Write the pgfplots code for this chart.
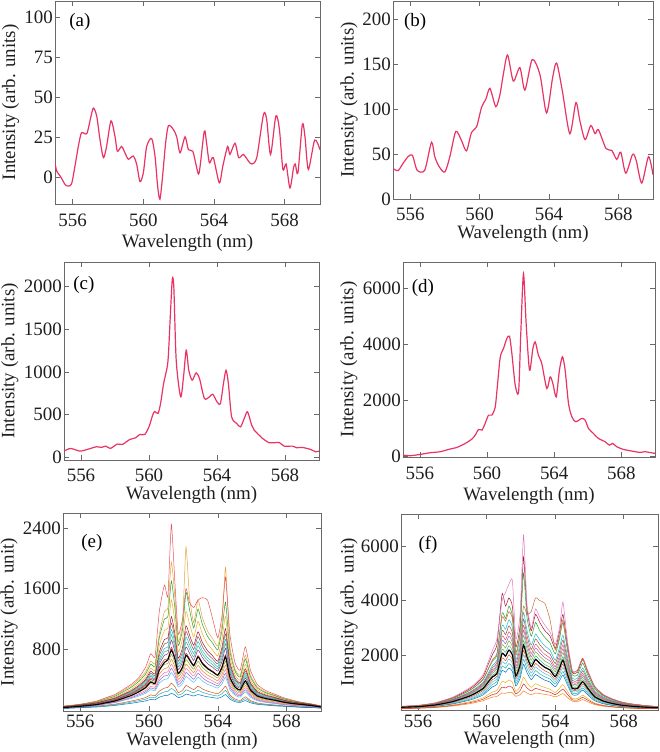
\documentclass[border=0pt]{standalone}
\usepackage{fontspec}
\setmainfont{Liberation Serif}
\usepackage{pgfplots}
\usepackage{pgfplotstable}
\pgfplotsset{compat=1.18}
\definecolor{spec}{RGB}{232,51,99}
\definecolor{axgray}{RGB}{105,105,105}
\definecolor{c1}{HTML}{0072BD}
\definecolor{c2}{HTML}{D95319}
\definecolor{c3}{HTML}{EDB120}
\definecolor{c4}{HTML}{7E2F8E}
\definecolor{c5}{HTML}{77AC30}
\definecolor{c6}{HTML}{4DBEEE}
\definecolor{c7}{HTML}{A2142F}
\definecolor{c8}{HTML}{2CA02C}
\definecolor{c9}{HTML}{17BECF}
\definecolor{c10}{HTML}{E377C2}
\definecolor{c11}{HTML}{E8A33A}
\definecolor{c12}{HTML}{E8505B}
\definecolor{c13}{HTML}{3CB371}
\definecolor{c14}{HTML}{FF7F0E}
\definecolor{c15}{HTML}{9467BD}
\definecolor{c16}{HTML}{20B2AA}
\definecolor{c17}{HTML}{D62728}
\definecolor{c18}{HTML}{8C564B}

\pgfplotstableread{
x m s1 s2 s3 s4 s5 s6 s7 s8 s9 s10 s11 s12 t1 t2 t3 t4 t5 t6
555 27 15 20 22 25 30 32 35 38 40 42 45 48 18 24 28 31 34 36
555.5 35 20 26 30 32 38 40 44 48 50 53 56 58 23 31 35 39 42 46
556 44 25 32 38 40 48 50 55 60 62 66 70 72 28 39 44 49 52 58
556.5 55 30 40 46 50 60 63 68 74 78 82 88 92 35 48 55 61 66 71
557 68 35 48 56 62 74 78 85 92 97 104 110 116 42 59 68 76 82 88
557.5 90 45 60 75 82 98 103 112 122 130 140 150 158 52 78 90 100 108 117
558 113 55 72 92 102 122 130 140 152 162 175 188 198 64 97 112 126 135 146
558.5 150 70 92 120 135 162 172 186 202 215 235 250 265 81 128 148 167 179 194
559 190 85 115 150 172 205 218 236 256 275 300 320 340 100 161 188 211 227 246
559.4 235 100 135 180 210 250 270 290 318 340 372 395 420 118 195 230 260 280 304
559.8 292 115 160 215 255 310 335 365 400 430 470 500 560 138 235 282 322 350 382
560.1 367 135 195 265 310 380 420 460 510 550 600 640 740 165 288 345 400 440 485
560.35 345 130 185 250 295 360 395 430 475 520 570 610 700 158 272 328 378 412 452
560.6 521 165 245 350 420 520 600 670 760 850 950 1000 1300 205 385 470 560 635 715
560.9 625 185 285 400 490 600 720 810 930 1050 1200 1300 1650 235 445 545 660 765 870
561.1 660 190 295 410 500 610 740 830 950 1080 1230 1350 1500 242 455 555 675 785 890
561.3 787 215 350 490 600 730 920 1060 1230 1450 1700 1950 2450 280 545 665 825 990 1145
561.5 676 195 305 420 515 625 770 880 1010 1170 1350 1500 1700 250 468 570 698 825 945
561.7 477 160 225 300 365 440 530 600 680 760 850 900 1000 192 332 402 485 565 640
561.95 560 175 255 345 425 515 630 720 820 940 1060 1150 1200 215 385 470 572 675 770
562.15 720 205 320 440 545 660 830 960 1110 1300 1550 2150 1600 262 492 602 745 895 1035
562.35 660 195 295 405 500 605 750 860 990 1140 1330 1500 1420 245 452 552 678 805 925
562.6 580 180 265 360 445 535 650 740 850 960 1080 1150 1350 222 402 490 592 695 795
562.85 698 200 310 430 530 640 790 900 1030 1170 1330 1450 1450 255 480 585 715 845 965
563.1 610 185 275 380 465 560 690 780 890 1000 1130 1220 1480 230 422 512 625 735 835
563.4 543 170 245 335 415 500 610 690 780 870 970 1040 1450 208 375 458 555 650 735
563.7 499 160 225 310 380 460 560 630 710 790 880 940 1200 192 345 420 510 595 670
564.0 455 150 210 285 345 420 510 570 640 710 790 840 950 180 315 382 465 540 605
564.25 560 170 255 345 425 515 640 730 830 940 1060 1150 1250 212 385 470 578 685 780
564.45 698 200 310 430 530 640 810 930 1070 1230 1420 1880 1750 255 480 585 725 870 1000
564.7 430 140 195 270 330 395 490 560 630 700 780 850 1000 168 300 362 442 525 595
565.0 300 105 140 190 230 275 330 375 420 460 510 540 620 122 210 252 302 352 398
565.3 260 95 122 165 200 240 285 320 355 390 430 455 520 108 182 220 262 302 338
565.6 380 120 170 235 290 350 420 480 540 600 670 720 830 145 262 320 385 450 510
565.9 260 90 120 165 200 240 285 320 355 390 430 455 520 105 182 220 262 302 338
566.3 180 70 88 118 140 165 195 215 240 260 285 300 330 79 129 152 180 205 228
566.8 146 60 72 95 112 134 158 175 192 205 222 232 250 66 103 123 146 166 184
567.3 125 50 62 80 95 114 134 148 162 172 185 192 205 56 88 104 124 141 155
567.8 100 45 50 65 76 92 108 118 128 135 145 150 160 48 70 84 100 113 123
568.3 82 38 42 55 63 76 88 96 104 110 118 120 128 40 59 70 82 92 100
568.8 70 32 36 46 52 64 74 80 86 90 95 96 100 34 49 58 69 77 83
569.4 55 28 30 38 42 50 60 64 68 70 74 75 78 29 40 46 55 62 66
570 35 20 22 26 30 34 38 40 42 44 46 48 50 21 28 32 36 39 41
}\tabE

\pgfplotstableread{
x m s1 s2 s3 s4 s5 s6 s7 s8 s9 s10 s11 s12 t1 t2 t3 t4 t5 t6
555 98 50 60 70 80 95 105 112 120 125 130 135 128 55 75 88 100 108 116
555.5 110 55 68 78 90 106 118 125 134 140 146 150 142 62 84 98 112 121 130
556 122 62 76 88 100 118 130 140 150 158 165 170 160 69 94 109 124 135 145
556.5 150 75 92 108 124 146 160 172 185 195 205 212 198 84 116 135 153 166 178
557 183 90 112 132 152 178 198 212 228 242 255 265 245 101 142 165 188 205 220
557.5 240 115 145 172 200 235 262 282 305 325 345 360 330 130 186 218 248 272 294
558 305 145 185 218 254 298 333 360 390 418 445 465 425 165 236 276 316 346 375
558.5 402 185 240 285 335 392 440 475 515 555 595 625 565 212 310 364 416 458 495
559 512 230 300 360 425 500 560 605 658 712 770 810 725 265 392 462 530 582 632
559.4 634 280 365 445 525 620 695 750 815 885 960 1010 900 322 485 572 658 722 782
559.8 793 340 450 555 660 775 870 940 1025 1120 1230 1300 1140 395 608 718 822 905 982
560.1 1037 420 570 720 870 1010 1140 1240 1360 1500 1680 1780 1520 495 795 940 1075 1190 1300
560.35 1220 470 660 850 1030 1200 1360 1480 1640 1800 2050 2200 1850 565 940 1115 1280 1420 1560
560.6 1341 500 720 940 1140 1320 1500 1640 1820 2020 2400 2600 2080 610 1040 1230 1410 1570 1730
560.9 2073 620 1050 1450 1760 2050 2380 2700 3100 3550 4250 4000 3400 835 1600 1900 2210 2540 2900
561.1 1976 610 1000 1380 1680 1950 2270 2570 2950 3350 3800 4300 3250 805 1530 1810 2110 2420 2760
561.3 2195 650 1100 1540 1870 2180 2530 2860 3300 3800 4100 4600 3600 875 1700 2020 2350 2700 3080
561.5 2012 630 1010 1410 1710 2000 2320 2620 3020 3450 3800 4750 3350 820 1560 1850 2160 2470 2820
561.7 1244 500 680 880 1060 1230 1420 1600 1840 2100 2300 2600 2000 590 970 1140 1320 1510 1720
561.95 1646 560 860 1160 1400 1630 1880 2130 2460 2850 3100 3500 2700 710 1280 1510 1750 2000 2300
562.15 2378 700 1200 1670 2020 2350 2730 3100 3570 5000 5600 6400 3800 950 1850 2180 2540 2920 3330
562.35 1951 620 1000 1370 1660 1930 2240 2540 2920 3400 3700 3900 3500 810 1510 1790 2080 2390 2730
562.6 1585 560 830 1110 1350 1570 1820 2060 2370 2700 2900 3000 3600 695 1230 1460 1690 1940 2210
562.85 1854 620 960 1300 1580 1830 2130 2410 2780 3200 3500 3700 4100 790 1440 1700 1980 2270 2600
563.1 1707 600 890 1200 1450 1690 1960 2220 2560 2900 3200 3400 4000 745 1320 1570 1820 2090 2390
563.4 1561 570 820 1090 1330 1540 1790 2030 2340 2650 2900 3100 3900 695 1210 1430 1660 1910 2180
563.7 1463 540 760 1020 1240 1450 1680 1900 2190 2450 2700 2850 3300 650 1130 1340 1560 1790 2040
564.0 1220 480 640 850 1040 1210 1400 1580 1820 2050 2250 2400 2200 560 945 1120 1300 1490 1700
564.25 1524 540 790 1070 1300 1510 1750 1980 2280 2600 2850 3000 2700 665 1180 1400 1630 1860 2130
564.45 1829 600 930 1280 1550 1810 2100 2380 2740 3200 3500 3950 3300 765 1410 1680 1950 2240 2560
564.7 1341 470 700 940 1140 1330 1540 1740 2000 2250 2450 2600 2300 585 1040 1230 1430 1640 1870
565.0 793 320 420 555 675 785 900 1010 1160 1280 1380 1450 1400 370 615 730 840 955 1080
565.3 793 310 420 555 675 785 900 1010 1160 1280 1380 1450 1450 365 615 730 840 955 1080
565.6 1037 380 540 730 880 1030 1190 1340 1540 1720 1850 1900 1900 460 805 955 1110 1265 1440
565.9 793 300 420 555 675 785 900 1010 1160 1280 1380 1450 1400 360 615 730 840 955 1080
566.3 488 200 260 340 415 485 560 630 720 790 850 880 850 230 378 450 522 595 675
566.8 329 140 175 230 280 326 375 420 480 520 555 575 540 158 255 303 350 398 450
567.3 244 110 130 170 207 242 278 310 355 385 410 420 400 120 188 225 260 294 332
567.8 183 85 98 128 155 181 208 232 265 285 300 308 295 92 142 168 195 220 248
568.3 146 70 80 102 124 145 166 185 210 225 235 240 230 75 113 135 155 175 198
568.8 122 60 66 85 104 121 139 155 175 186 193 196 190 63 95 112 130 147 165
569.4 98 50 55 68 83 97 111 124 140 148 152 155 150 52 75 90 104 118 132
570 85 45 48 60 72 84 96 105 115 120 124 126 122 46 66 78 90 100 110
}\tabF

\pgfplotsset{
  panel/.style={
    scale only axis, xmin=555, xmax=570, xtick={556,560,564,568},
    tick align=inside, tick pos=both,
    axis line style={axgray, line width=0.6pt},
    major tick style={axgray, line width=0.6pt},
    major tick length=5bp,
    tick label style={font=\fontsize{19}{21}\selectfont, text=black!88},
    label style={font=\fontsize{19}{21}\selectfont, text=black!88},
    /pgf/number format/assume math mode=true,
    /pgf/number format/set thousands separator={},
    scaled y ticks=false,
    xticklabel style={anchor=base},
    yticklabel style={inner sep=2bp},
    xlabel={Wavelength (nm)},
  },
  spec/.style={color=spec, line width=1.2bp, smooth, tension=0.45, mark=none},
  fan/.style={line width=0.5pt, smooth, tension=0.3, mark=none},
}

\begin{document}
\begin{tikzpicture}[x=1bp,y=1bp]
\path[use as bounding box] (0,0) rectangle (660,752);

% (a)
\begin{axis}[panel, at={(55bp,548bp)}, anchor=south west, width=265bp, height=203bp,
  ymin=-17, ymax=110, ytick={0,25,50,75,100},
  xticklabel style={yshift=-23bp},
  ylabel={Intensity (arb. units)},
  ylabel style={at={(axis description cs:-0.168,0.5)}, anchor=center},
  xlabel style={at={(axis description cs:0.5,0)}, anchor=base, yshift=-43.5bp}]
\addplot[spec] coordinates {(555.0,8.75) (555.1,3.5) (555.3,0.4) (555.57,-4.8) (555.75,-5.8) (555.94,-4.4) (556.13,6.7) (556.32,19) (556.5,27.5) (556.8,27) (557.0,36) (557.17,43) (557.36,38) (557.55,23) (557.74,12) (557.92,19) (558.17,35) (558.4,25) (558.53,16) (558.77,19) (558.96,15) (559.15,11) (559.43,13) (559.62,8) (559.81,-3) (560.0,2.5) (560.19,19) (560.47,24) (560.66,13) (560.81,-6) (560.94,-14) (561.09,0.4) (561.26,21) (561.42,32) (561.7,29.6) (561.89,25) (562.08,15) (562.36,25) (562.55,17) (562.8,16) (563.0,6.7) (563.16,2.5) (563.45,28.5) (563.58,21) (563.74,8.75) (563.96,12) (564.3,-3.75) (564.5,6.7) (564.77,19) (564.9,14) (565.19,21) (565.4,12) (565.66,14) (565.94,10) (566.13,8) (566.42,12) (566.8,39) (566.98,36) (567.2,14) (567.5,38) (567.7,30) (567.9,4.6) (568.08,8) (568.3,-7) (568.5,5.6) (568.6,8) (568.75,2.5) (569.0,32.7) (569.15,25) (569.34,4.6) (569.7,23) (570.0,17)};
\node[font=\fontsize{19}{21}\selectfont] at (rel axis cs:0.094,0.897) {(a)};
\end{axis}

% (b)
\begin{axis}[panel, at={(393bp,553bp)}, anchor=south west, width=260bp, height=198bp,
  ymin=0, ymax=220, ytick={0,50,100,150,200},
  xticklabel style={yshift=-22bp},
  ylabel={Intensity (arb. units)},
  ylabel style={at={(axis description cs:-0.169,0.5)}, anchor=center},
  xlabel style={at={(axis description cs:0.5,0)}, anchor=base, yshift=-39.5bp}]
\addplot[spec] coordinates {(555.0,34) (555.29,31.5) (555.58,39.6) (555.87,47) (556.12,48.7) (556.39,32) (556.83,32) (557.22,63) (557.41,47) (557.66,36) (557.99,30) (558.28,47) (558.62,75) (558.95,65) (559.24,53.5) (559.53,74) (559.82,80) (560.11,102) (560.36,111) (560.59,123) (560.93,102.6) (561.17,116) (561.36,138) (561.61,160) (561.94,131) (562.32,146) (562.61,121) (563.03,155) (563.48,138) (563.86,95.6) (564.21,135) (564.44,151) (564.77,120) (565.2,72.5) (565.55,107) (565.78,87) (566.08,66) (566.41,81.7) (566.66,72.5) (566.85,77) (567.29,56) (567.62,54) (567.91,44) (568.14,52) (568.43,28.6) (568.82,49.5) (569.03,43) (569.35,17.6) (569.74,47) (570.0,27)};
\node[font=\fontsize{19}{21}\selectfont] at (rel axis cs:0.085,0.894) {(b)};
\end{axis}

% (c)
\begin{axis}[panel, at={(64bp,292bp)}, anchor=south west, width=255bp, height=198bp,
  ymin=-30, ymax=2285, ytick={0,500,1000,1500,2000},
  xticklabel style={yshift=-22bp},
  ylabel={Intensity (arb. units)},
  ylabel style={at={(axis description cs:-0.212,0.5)}, anchor=center},
  xlabel style={at={(axis description cs:0.5,0)}, anchor=base, yshift=-40bp}]
\addplot[spec] coordinates {(555.0,74) (555.39,105) (555.94,74) (556.43,97) (556.91,125) (557.21,117) (557.46,132) (557.73,105) (558.13,156) (558.44,152) (558.87,210) (559.22,230) (559.45,268) (559.75,268) (560.0,358) (560.2,486) (560.33,537) (560.53,514) (560.68,630) (560.86,864) (561.11,1117) (561.25,1642) (561.37,2082) (561.46,1992) (561.6,1136) (561.86,708) (562.03,942) (562.19,1253) (562.34,1019) (562.54,903) (562.77,988) (562.97,922) (563.26,689) (563.55,708) (563.75,739) (564.0,650) (564.2,630) (564.38,864) (564.53,1019) (564.67,864) (564.86,475) (565.16,397) (565.39,358) (565.64,475) (565.8,533) (566.04,377) (566.19,319) (566.68,222) (567.07,171) (567.32,171) (567.66,175) (567.95,132) (568.44,132) (568.69,113) (569.02,117) (569.51,93) (569.8,66) (570.0,74)};
\node[font=\fontsize{19}{21}\selectfont] at (rel axis cs:0.078,0.884) {(c)};
\end{axis}

% (d)
\begin{axis}[panel, at={(403bp,295bp)}, anchor=south west, width=252bp, height=195bp,
  ymin=-10, ymax=6950, ytick={0,2000,4000,6000},
  xticklabel style={yshift=-23bp},
  ylabel={Intensity (arb. units)},
  ylabel style={at={(axis description cs:-0.215,0.5)}, anchor=center},
  xlabel style={at={(axis description cs:0.5,0)}, anchor=base, yshift=-44bp}]
\addplot[spec] coordinates {(555.0,59) (555.44,36) (556.03,83) (556.62,143) (557.22,178) (557.71,261) (558.21,333) (558.71,475) (559.1,630) (559.3,772) (559.5,974) (559.7,950) (559.89,1188) (560.09,1485) (560.29,1485) (560.49,1781) (560.63,2613) (560.79,3563) (560.98,3860) (561.18,4216) (561.34,4299) (561.48,3682) (561.68,2553) (561.88,2316) (562.01,4394) (562.17,6532) (562.33,4751) (562.53,3088) (562.73,3860) (562.87,4097) (563.06,3622) (563.26,3325) (563.56,2435) (563.76,2850) (563.92,2613) (564.12,2138) (564.31,3088) (564.49,3563) (564.65,3088) (564.85,1900) (565.05,1425) (565.28,1247) (565.64,1366) (565.84,1306) (566.04,1010) (566.33,831) (566.63,653) (567.03,534) (567.28,416) (567.48,475) (567.72,356) (568.12,261) (568.61,202) (569.11,154) (569.4,178) (570.0,119)};
\node[font=\fontsize{19}{21}\selectfont] at (rel axis cs:0.079,0.867) {(d)};
\end{axis}

% (e)
\begin{axis}[panel, at={(63bp,41bp)}, anchor=south west, width=258bp, height=198bp,
  ymin=-18, ymax=2600, ytick={800,1600,2400},
  ylabel={Intensity (arb. unit)},
  ylabel style={at={(axis description cs:-0.209,0.5)}, anchor=center},
  xticklabel style={yshift=-16.5bp},
  xlabel style={at={(axis description cs:0.5,0)}, anchor=base, yshift=-34bp}]
\addplot[fan, c5] table[x=x,y=s5] {\tabE};
\addplot[fan, c14] table[x=x,y=t3] {\tabE};
\addplot[fan, c2] table[x=x,y=s2] {\tabE};
\addplot[fan, c3] table[x=x,y=s9] {\tabE};
\addplot[fan, c16] table[x=x,y=t1] {\tabE};
\addplot[fan, c1] table[x=x,y=s1] {\tabE};
\addplot[fan, c13] table[x=x,y=t5] {\tabE};
\addplot[fan, c9] table[x=x,y=s7] {\tabE};
\addplot[fan, c11] table[x=x,y=s11] {\tabE};
\addplot[fan, c6] table[x=x,y=s3] {\tabE};
\addplot[fan, c15] table[x=x,y=t2] {\tabE};
\addplot[fan, c12] table[x=x,y=s12] {\tabE};
\addplot[fan, c4] table[x=x,y=s6] {\tabE};
\addplot[fan, c17] table[x=x,y=t4] {\tabE};
\addplot[fan, c10] table[x=x,y=s4] {\tabE};
\addplot[fan, c8] table[x=x,y=s10] {\tabE};
\addplot[fan, c18] table[x=x,y=t6] {\tabE};
\addplot[fan, c7] table[x=x,y=s8] {\tabE};
\addplot[black, line width=1.1pt, smooth, tension=0.3, mark=none] table[x=x,y=m] {\tabE};
\node[font=\fontsize{19}{21}\selectfont] at (rel axis cs:0.112,0.848) {(e)};
\end{axis}

% (f)
\begin{axis}[panel, at={(401bp,42bp)}, anchor=south west, width=257bp, height=196bp,
  ymin=0, ymax=7170, ytick={2000,4000,6000},
  ylabel={Intensity (arb. unit)},
  ylabel style={at={(axis description cs:-0.202,0.5)}, anchor=center},
  xticklabel style={yshift=-17bp},
  xlabel style={at={(axis description cs:0.5,0)}, anchor=base, yshift=-34.5bp}]
\addplot[fan, c14] table[x=x,y=s1] {\tabF};
\addplot[fan, c5] table[x=x,y=s6] {\tabF};
\addplot[fan, c16] table[x=x,y=t2] {\tabF};
\addplot[fan, c1] table[x=x,y=s3] {\tabF};
\addplot[fan, c9] table[x=x,y=s8] {\tabF};
\addplot[fan, c13] table[x=x,y=t4] {\tabF};
\addplot[fan, c3] table[x=x,y=s2] {\tabF};
\addplot[fan, c4] table[x=x,y=s5] {\tabF};
\addplot[fan, c17] table[x=x,y=t1] {\tabF};
\addplot[fan, c12] table[x=x,y=s7] {\tabF};
\addplot[fan, c6] table[x=x,y=s4] {\tabF};
\addplot[fan, c15] table[x=x,y=t5] {\tabF};
\addplot[fan, c7] table[x=x,y=s10] {\tabF};
\addplot[fan, c2] table[x=x,y=t3] {\tabF};
\addplot[fan, c8] table[x=x,y=s9] {\tabF};
\addplot[fan, c18] table[x=x,y=t6] {\tabF};
\addplot[fan, c10] table[x=x,y=s11] {\tabF};
\addplot[fan, c11!60!c7] table[x=x,y=s12] {\tabF};
\addplot[black, line width=1.1pt, smooth, tension=0.3, mark=none] table[x=x,y=m] {\tabF};
\node[font=\fontsize{19}{21}\selectfont] at (rel axis cs:0.105,0.842) {(f)};
\end{axis}
\end{tikzpicture}
\end{document}
